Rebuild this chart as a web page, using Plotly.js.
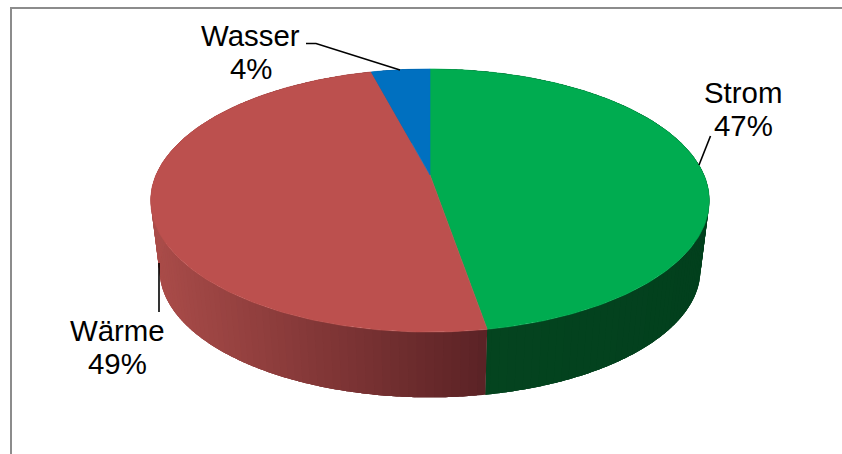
<!DOCTYPE html>
<html><head><meta charset="utf-8">
<script src="https://cdn.plot.ly/plotly-3.0.1.min.js"></script>
<style>html,body{margin:0;padding:0;background:#fff}</style>
</head><body><div id="chart" style="width:842px;height:454px"></div>
<script>
// Data
const categories = ['Strom', 'Wärme', 'Wasser'];
const shares = [47.3, 48.6, 4.1];
const percentLabels = ['47%', '49%', '4%'];
const topColors = ['#00ac50', '#bc504e', '#0070c0'];
const wallLeftColors = [[4, 68, 31], [170, 76, 73], [0, 70, 130]];
const wallRightColors = [[2, 64, 29], [90, 34, 37], [0, 70, 130]];

// Projection of the tilted disc into the chart's axis units
const cx = 430, apexY = 175, kx = 274, ky = 126.6, persp = -0.194;
const depthScale = 0.968, topMidY = 200.5, bottomMidY = 270;
const project = deg => {
  const t = deg * Math.PI / 180, u = Math.sin(t), v = -Math.cos(t), d = 1 + persp * v;
  return [cx + kx * u / d, apexY + ky * v / d];
};
const lower = p => [cx + (p[0] - cx) * depthScale, bottomMidY + (p[1] - topMidY) * depthScale];
const lerp = (a, b, f) => a.map((c, i) => Math.round(c + (b[i] - c) * f));
const clamp = f => Math.min(1, Math.max(0, f));

const traces = [];
const poly = (pts, color, name, edge) => traces.push({
  type: 'scatter', mode: edge ? 'lines' : 'none', x: pts.map(p => p[0]), y: pts.map(p => p[1]),
  fill: 'toself', fillcolor: color, line: {color: color, width: edge || 0},
  name: name, hoverinfo: 'skip', showlegend: false
});
const total = shares.reduce((a, b) => a + b, 0);
let start = 0;
const spans = shares.map(s => { const r = [start, start + s / total * 360]; start = r[1]; return r; });

// Walls: overlapping strips, so the shading steps with x and no seams show
spans.forEach((sp, i) => {
  const step = 1.5;
  for (let a = sp[0]; a < sp[1]; a += step) {
    const mid = project(Math.min(a + step / 2, sp[1]))[0];
    const f = i === 0 ? clamp((mid - 485) / 220) : clamp((mid - 151) / 338);
    const c = lerp(wallLeftColors[i], wallRightColors[i], f);
    const pts = [];
    const end = Math.min(a + step * 3, sp[1]);
    for (let d = a; d < end; d += 0.5) pts.push(project(d));
    pts.push(project(end));
    poly(pts.concat(pts.map(lower).reverse()), `rgb(${c.join(',')})`, categories[i] + ' wall');
  }
});
// Top faces
spans.forEach((sp, i) => {
  const pts = [[cx, apexY]];
  for (let a = sp[0]; a < sp[1]; a += 1) pts.push(project(a));
  pts.push(project(sp[1]), [cx, apexY]);
  poly(pts, topColors[i], categories[i], 0.6);
});

// Leader lines and frame
const leaders = [
  {x: [710.5, 699], y: [136, 165]},
  {x: [159, 159], y: [263, 312]},
  {x: [306, 316, 400], y: [43.5, 43.5, 70]}
];
leaders.forEach(l => traces.push({type: 'scatter', mode: 'lines', x: l.x, y: l.y,
  line: {color: '#000', width: 1.6}, hoverinfo: 'skip', showlegend: false}));
traces.push({type: 'scatter', mode: 'lines', x: [11, 11, 842], y: [454, 8, 8],
  line: {color: '#8c8c8c', width: 2}, hoverinfo: 'skip', showlegend: false});

const labelX = [743, 117, 250.5];
const nameY = [92, 330, 35];
const pctY = [125, 363, 68];
const annotations = [];
categories.forEach((c, i) => {
  const font = {family: 'Liberation Sans, Arial, sans-serif', size: 29.4, color: '#000'};
  annotations.push({xref: 'x', yref: 'y', x: labelX[i], y: nameY[i], text: c, showarrow: false, font, xanchor: 'center', yanchor: 'middle'});
  annotations.push({xref: 'x', yref: 'y', x: labelX[i], y: pctY[i], text: percentLabels[i], showarrow: false, font, xanchor: 'center', yanchor: 'middle'});
});

Plotly.newPlot('chart', traces, {
  width: 842, height: 454, margin: {l: 0, r: 0, t: 0, b: 0},
  paper_bgcolor: '#fff', plot_bgcolor: '#fff', showlegend: false,
  xaxis: {range: [0, 842], visible: false, fixedrange: true},
  yaxis: {range: [454, 0], visible: false, fixedrange: true},
  annotations
}, {displayModeBar: false, staticPlot: true});
</script></body></html>
